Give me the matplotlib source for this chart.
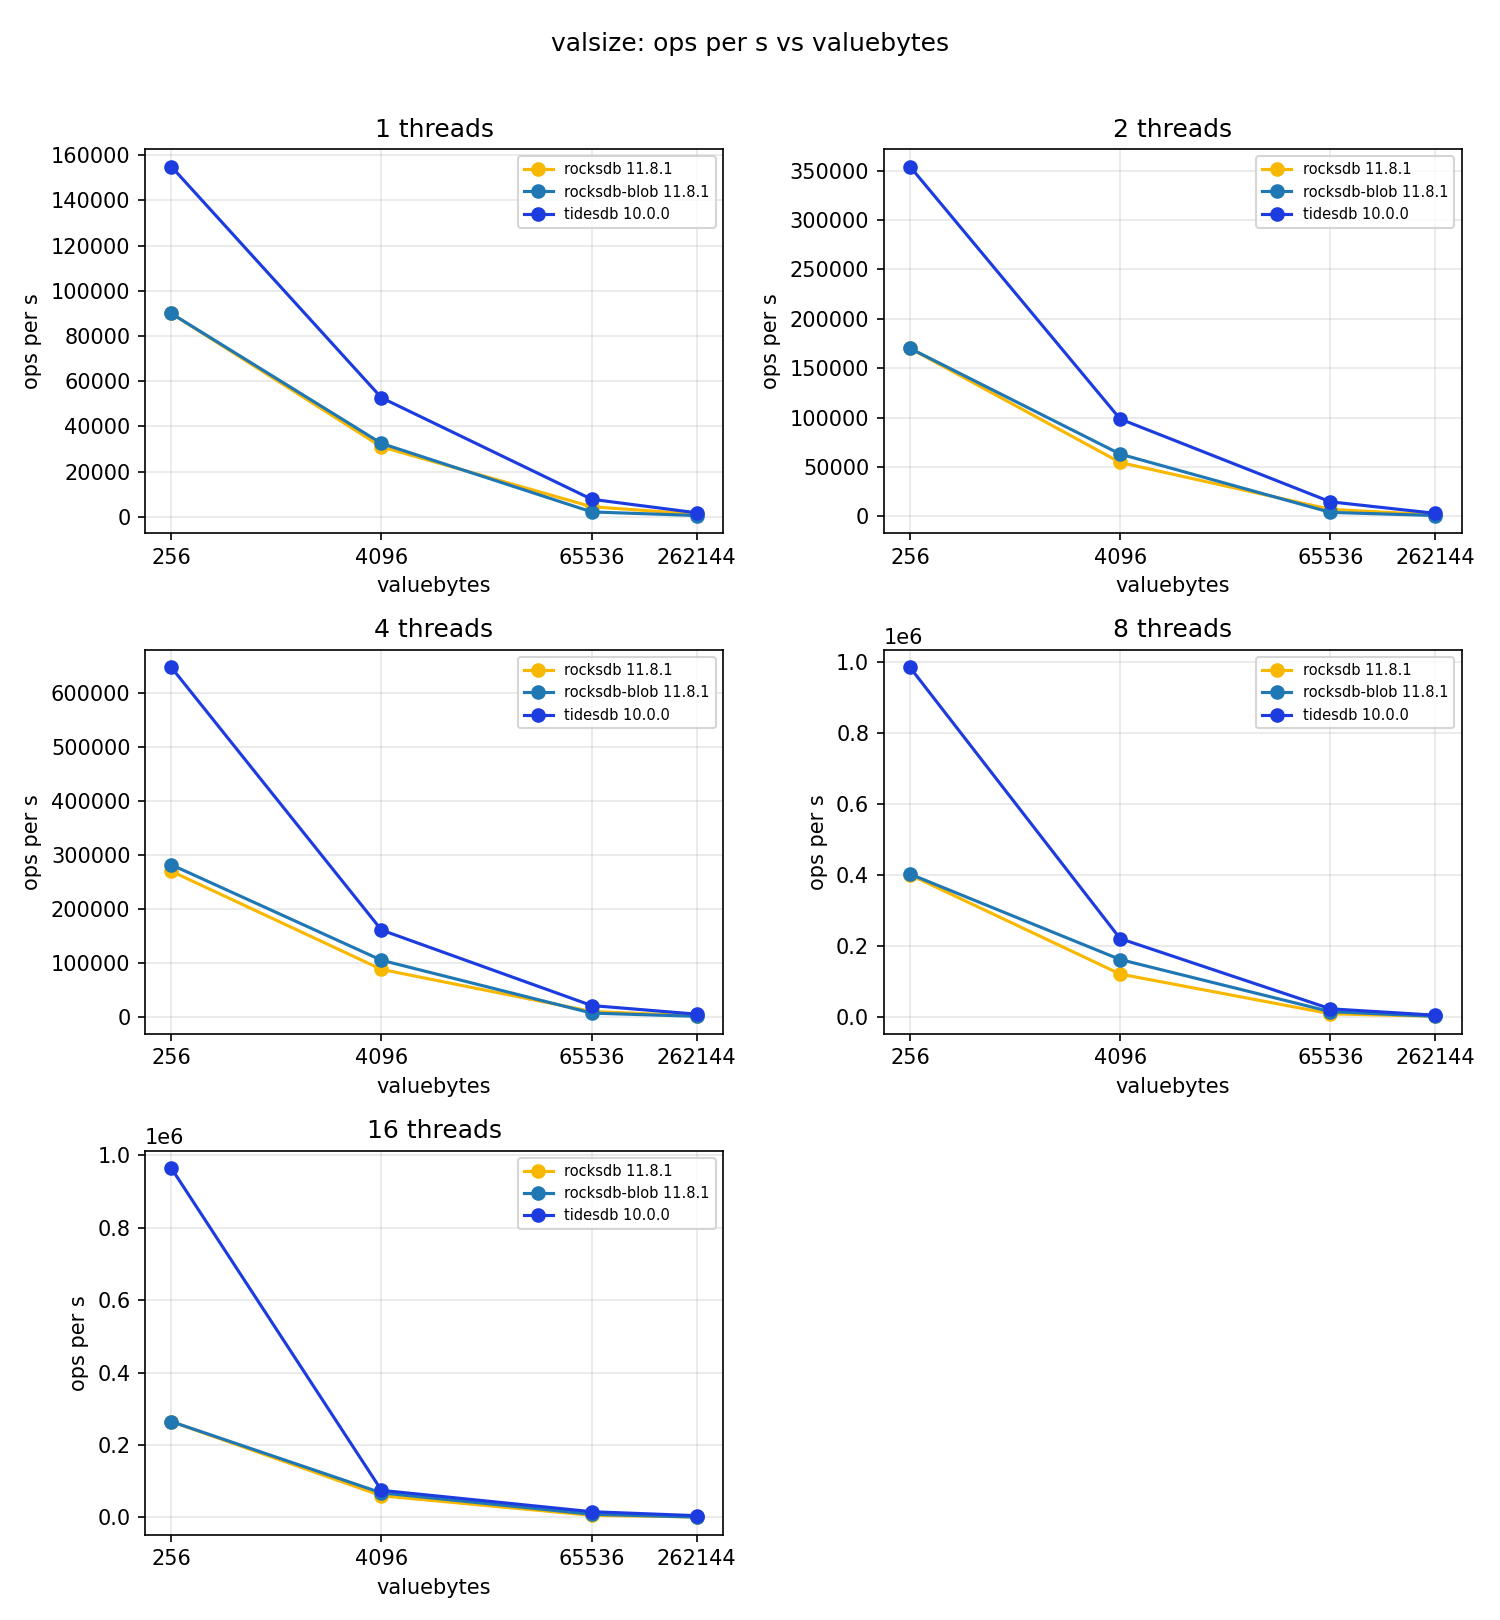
import matplotlib
matplotlib.use("Agg")
import matplotlib.pyplot as plt

valuebytes = [256, 4096, 65536, 262144]
threads = [1, 2, 4, 8, 16]

# ops per s, one list per thread count
rocksdb = {
    1: [90000, 31000, 4500, 1200],
    2: [170000, 54500, 7000, 1500],
    4: [270000, 88000, 10000, 2000],
    8: [400000, 120000, 8000, 1000],
    16: [265000, 60000, 6000, 1500],
}
rocksdb_blob = {
    1: [90000, 32500, 2200, 600],
    2: [170000, 63000, 4000, 800],
    4: [282000, 105000, 7000, 1000],
    8: [402000, 161000, 14000, 800],
    16: [265000, 68000, 9000, 1000],
}
tidesdb = {
    1: [155000, 52700, 7800, 1800],
    2: [354000, 98500, 14700, 3000],
    4: [648000, 161000, 21000, 5000],
    8: [985000, 220000, 22000, 4000],
    16: [965000, 75000, 16000, 5000],
}

engines = [
    ("rocksdb 11.8.1", rocksdb, "#F9B800"),
    ("rocksdb-blob 11.8.1", rocksdb_blob, "#1f77b4"),
    ("tidesdb 10.0.0", tidesdb, "#1c3ce0"),
]

fig, axes = plt.subplots(3, 2, figsize=(10, 10.8), dpi=150)
axes = axes.flatten()

for i, t in enumerate(threads):
    ax = axes[i]
    for name, data, color in engines:
        ax.plot(valuebytes, data[t], marker="o", label=name, color=color)
    ax.set_xscale("log", base=2)
    ax.set_xticks(valuebytes)
    ax.set_xticklabels([str(v) for v in valuebytes])
    ax.minorticks_off()
    ax.set_title(f"{t} threads")
    ax.set_xlabel("valuebytes")
    ax.set_ylabel("ops per s")
    ax.grid(True, alpha=0.3)
    ax.legend(fontsize=7, loc="upper right")

axes[-1].axis("off")

fig.suptitle("valsize: ops per s vs valuebytes")
fig.tight_layout(rect=[0, 0, 1, 0.97])
fig.savefig("out.png")
